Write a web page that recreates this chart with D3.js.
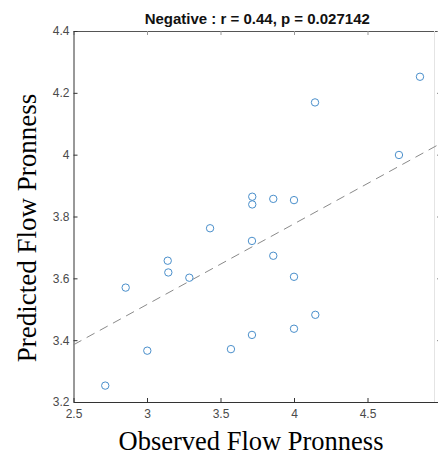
<!DOCTYPE html>
<html lang="en">
<head>
  <meta charset="UTF-8">
  <title>Negative scatter</title>
  <script src="https://d3js.org/d3.v7.min.js"></script>
  <style>
    body { margin: 0; background: #fff; }
  </style>
</head>
<body>
  <div id="chart"></div>
  <script>
  // observed vs predicted values
  var observed  = [4.857, 4.143, 4.714, 3.429, 3.716, 3.716, 3.859, 4.0, 3.714, 3.859, 4.0,
                   4.145, 4.0, 3.714, 3.571, 3.141, 3.145, 3.288, 2.855, 3.002, 2.716];
  var predicted = [4.252, 4.169, 3.999, 3.762, 3.864, 3.839, 3.857, 3.853, 3.721, 3.673, 3.605,
                   3.482, 3.437, 3.417, 3.371, 3.657, 3.619, 3.602, 3.570, 3.366, 3.253];

  // fitted line end points
  var fitX = [2.5, 5];
  var fitY = [3.385, 4.037];

  var xTicks = [2.5, 3, 3.5, 4, 4.5, 5];
  var xLabels = ["2.5", "3", "3.5", "4", "4.5", "5"];
  var yTicks = [3.2, 3.4, 3.6, 3.8, 4, 4.2, 4.4];
  var yLabels = ["3.2", "3.4", "3.6", "3.8", "4", "4.2", "4.4"];

  var titleText = "Negative : r = 0.44, p = 0.027142";

  // plot box (right edge falls just outside the window, as in the reference)
  var W = 438, H = 455;
  var boxL = 73.5, boxR = 441, boxT = 31, boxB = 402;

  var svg = d3.select("#chart").append("svg")
    .attr("width", W)
    .attr("height", H);

  var x = d3.scaleLinear().domain([2.5, 5]).range([boxL, boxR]);
  var y = d3.scaleLinear().domain([3.2, 4.4]).range([boxB, boxT]);

  // box: top and right sides with inward ticks, no labels
  svg.append("g")
    .attr("transform", "translate(0," + boxT + ")")
    .call(d3.axisTop(x).tickValues(xTicks).tickSize(-4).tickSizeOuter(0).tickFormat(""))
    .call(function(g) {
      g.select(".domain").attr("stroke", "#555");
      g.selectAll(".tick line").attr("stroke", "#999");
    });
  svg.append("g")
    .attr("transform", "translate(" + boxR + ",0)")
    .call(d3.axisRight(y).tickValues(yTicks).tickSize(-4).tickSizeOuter(0).tickFormat(""))
    .call(function(g) {
      g.selectAll(".tick line").attr("stroke", "#888");
    });
  // faint edge line seen at the crop
  svg.append("line")
    .attr("x1", 434.5).attr("x2", 434.5)
    .attr("y1", y(4.4)).attr("y2", y(3.2))
    .attr("stroke", "#e4e4e4");

  // bottom axis
  svg.append("g")
    .attr("transform", "translate(0," + boxB + ")")
    .call(d3.axisBottom(x).tickValues(xTicks).tickSize(-4).tickSizeOuter(0)
      .tickPadding(7).tickFormat(function(d, i) { return xLabels[i]; }))
    .call(function(g) {
      g.select(".domain").attr("stroke", "#333");
      g.selectAll(".tick line").attr("stroke", "#333");
      g.selectAll("text").attr("fill", "#4a4a4a")
        .style("font-family", "'Liberation Sans', Arial, sans-serif").style("font-size", "12px");
    });

  // left axis
  svg.append("g")
    .attr("transform", "translate(" + boxL + ",0)")
    .call(d3.axisLeft(y).tickValues(yTicks).tickSize(-4).tickSizeOuter(0)
      .tickPadding(4).tickFormat(function(d, i) { return yLabels[i]; }))
    .call(function(g) {
      g.select(".domain").attr("stroke", "#333");
      g.selectAll(".tick line").attr("stroke", "#333");
      g.selectAll("text").attr("fill", "#4a4a4a")
        .style("font-family", "'Liberation Sans', Arial, sans-serif").style("font-size", "12px");
    });

  // dashed fit line
  var line = d3.line()
    .x(function(d) { return x(d[0]); })
    .y(function(d) { return y(d[1]); });
  svg.append("path")
    .datum(d3.zip(fitX, fitY))
    .attr("d", line)
    .attr("fill", "none")
    .attr("stroke", "#8a8a8a")
    .attr("stroke-width", 1)
    .attr("stroke-dasharray", "9,6");

  // points
  svg.selectAll("circle.pt")
    .data(d3.zip(observed, predicted))
    .enter()
    .append("circle")
    .attr("class", "pt")
    .attr("cx", function(d) { return x(d[0]); })
    .attr("cy", function(d) { return y(d[1]); })
    .attr("r", 3.7)
    .attr("fill", "none")
    .attr("stroke", "#4a8fcb")
    .attr("stroke-width", 1);

  // title
  svg.append("text")
    .attr("x", (boxL + boxR) / 2)
    .attr("y", 24)
    .attr("text-anchor", "middle")
    .style("font-family", "'Liberation Sans', Arial, sans-serif")
    .style("font-weight", "bold")
    .style("font-size", "15px")
    .attr("fill", "#111")
    .text(titleText);

  // axis titles
  svg.append("text")
    .attr("x", 251)
    .attr("y", 450)
    .attr("text-anchor", "middle")
    .style("font-family", "'Liberation Serif', 'Times New Roman', serif")
    .style("font-size", "26.5px")
    .attr("fill", "#000")
    .text("Observed Flow Pronness");

  svg.append("text")
    .attr("transform", "translate(36,228) rotate(-90)")
    .attr("text-anchor", "middle")
    .style("font-family", "'Liberation Serif', 'Times New Roman', serif")
    .style("font-size", "27px")
    .attr("fill", "#000")
    .text("Predicted Flow Pronness");
  </script>
</body>
</html>
